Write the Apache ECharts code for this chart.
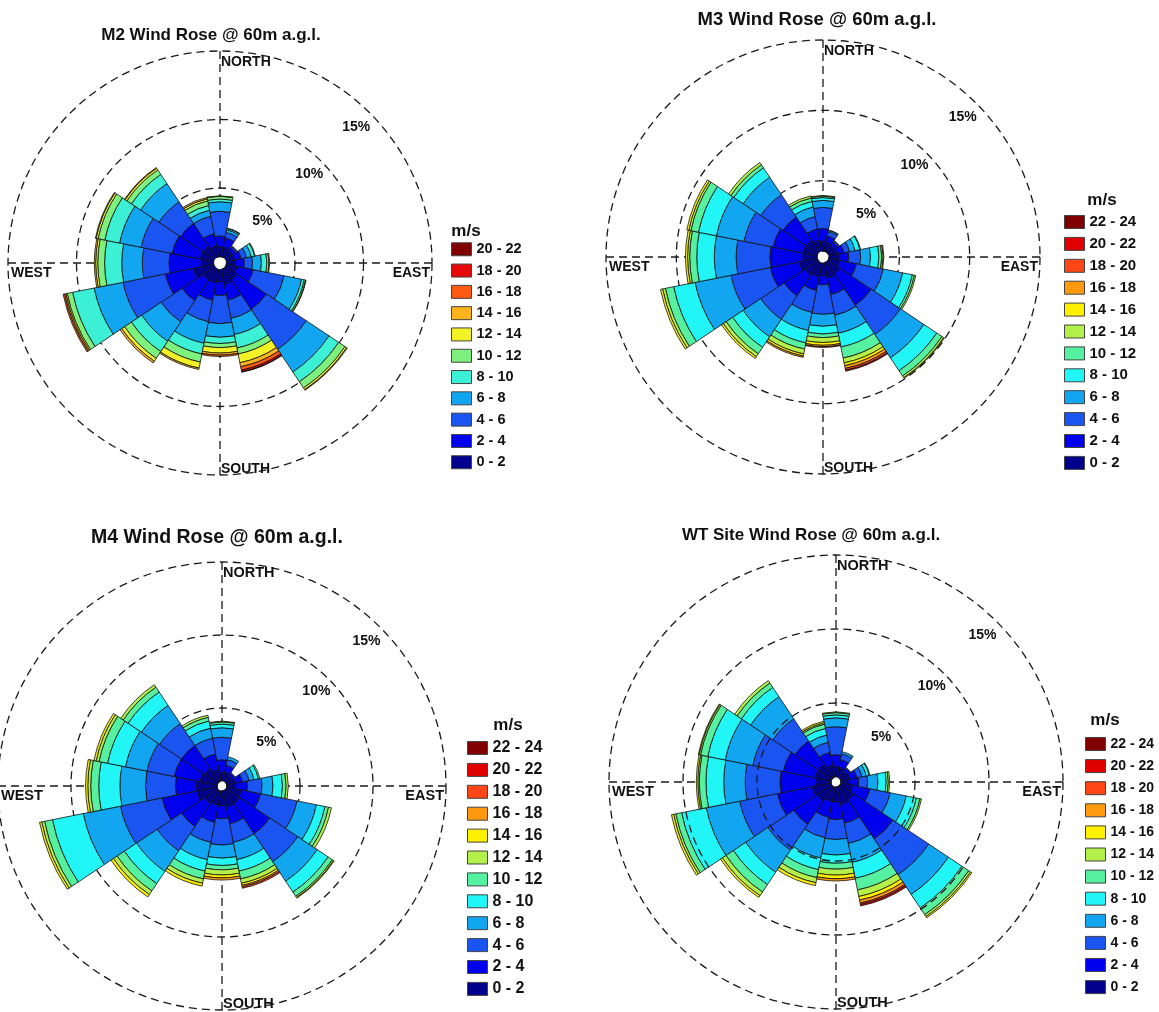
<!DOCTYPE html>
<html>
<head>
<meta charset="utf-8">
<script src="https://cdn.jsdelivr.net/npm/echarts@6/dist/echarts.min.js"></script>
<style>
html,body{margin:0;padding:0;background:#fff;}
#c{width:1159px;height:1012px;}
</style>
</head>
<body>
<div id="c"></div>
<script>
// ---------------- DATA ----------------
const directions = ['N','NNE','NE','ENE','E','ESE','SE','SSE','S','SSW','SW','WSW','W','WNW','NW','NNW'];
const speedBins11 = ['0 - 2','2 - 4','4 - 6','6 - 8','8 - 10','10 - 12','12 - 14','14 - 16','16 - 18','18 - 20','20 - 22'];
const speedBins12 = ['0 - 2','2 - 4','4 - 6','6 - 8','8 - 10','10 - 12','12 - 14','14 - 16','16 - 18','18 - 20','20 - 22','22 - 24'];
const ringTicks = [5, 10, 15];
const compassNames = ['NORTH', 'EAST', 'SOUTH', 'WEST'];

// frequency (% of time) per direction (rows, N..NNW) and speed bin (columns, lowest first)
const m2Freq = [
  [0.7,0.8,1.8,0.7,0.2,0.2,0.03],
  [0.7,0.7,0.4,0.2,0.1,0.03],
  [0.6,0.3,0.1,0.05],
  [0.6,0.5,0.4,0.35,0.25,0.05],
  [0.65,0.65,0.6,0.65,0.4,0.15,0.05],
  [0.8,1.2,2.3,1.3,0.2,0.1,0.03],
  [1.0,2.6,3.5,2.0,0.85,0.55,0.15,0.05],
  [1.1,1.2,1.35,1.2,1.0,0.45,0.65,0.3,0.25,0.12,0.04],
  [0.9,1.0,2.05,1.0,0.45,0.3,0.4,0.15,0.1],
  [1.0,1.3,1.6,1.6,0.8,0.6,0.45,0.1],
  [1.0,1.85,1.85,1.7,0.9,0.6,0.25,0.15],
  [1.5,2.1,3.15,2.15,1.6,0.4,0.1,0.1,0.1],
  [0.9,2.35,1.95,1.5,1.25,0.5,0.15,0.1],
  [1.0,2.1,2.3,1.6,1.1,0.5,0.15,0.05],
  [1.0,2.0,1.9,1.6,0.8,0.4,0.15,0.05],
  [0.8,0.9,1.3,0.45,0.35,0.35,0.15,0.1]
];
const m3Freq = [
  [0.7,0.9,1.5,0.5,0.2,0.1,0.05],
  [0.6,0.5,0.3,0.1,0.03],
  [0.55,0.3,0.1,0.03],
  [0.6,0.5,0.4,0.4,0.35,0.05],
  [0.7,0.7,0.85,0.7,0.6,0.2,0.1,0.05],
  [0.8,1.2,1.95,1.4,0.7,0.15,0.1],
  [1.0,2.7,2.5,2.0,1.1,0.45,0.15,0.05],
  [1.1,1.2,1.5,1.3,1.0,0.8,0.35,0.2,0.2,0.13,0.07],
  [0.9,0.65,2.1,0.85,0.55,0.25,0.35,0.2,0.1,0.05],
  [1.0,1.0,1.6,1.3,0.9,0.45,0.35,0.15,0.1],
  [1.1,1.8,2.0,1.5,0.9,0.55,0.25,0.15],
  [1.3,2.1,2.85,2.6,1.55,0.6,0.2,0.15],
  [1.0,2.35,2.4,1.55,1.25,0.5,0.15,0.15],
  [1.0,2.2,2.1,2.0,1.3,0.55,0.15,0.15],
  [1.0,2.0,1.9,1.5,0.8,0.25,0.2],
  [0.8,0.8,0.9,0.7,0.4,0.25,0.15]
];
const m4Freq = [
  [0.6,0.85,1.55,0.65,0.25,0.15,0.05],
  [0.6,0.5,0.4,0.2],
  [0.5,0.2,0.05],
  [0.6,0.5,0.45,0.35,0.3,0.1],
  [0.6,0.8,1.0,0.75,0.65,0.25,0.15],
  [1.0,1.35,2.55,1.35,0.6,0.25,0.2],
  [1.1,2.5,2.3,1.6,0.9,0.35,0.1,0.05],
  [1.1,1.2,1.3,1.2,0.8,0.55,0.3,0.15,0.1,0.1],
  [1.0,0.9,1.8,0.9,0.5,0.3,0.35,0.2,0.15],
  [1.0,1.2,1.4,1.2,0.8,0.55,0.3,0.2],
  [1.1,1.9,2.0,1.7,1.0,0.6,0.3,0.2],
  [1.4,2.45,2.9,2.6,2.15,0.55,0.2,0.15],
  [1.4,1.45,2.05,1.75,1.45,0.55,0.2,0.15],
  [1.2,1.8,1.9,1.5,1.25,0.6,0.2,0.15],
  [1.1,1.9,1.8,1.5,1.1,0.4,0.2],
  [0.8,1.1,1.1,0.7,0.5,0.25,0.15]
];
const wtFreq = [
  [0.7,0.8,1.9,0.6,0.2,0.15,0.05],
  [0.65,0.55,0.4,0.15],
  [0.55,0.25,0.05],
  [0.6,0.5,0.35,0.3,0.2,0.05],
  [0.6,0.6,0.6,0.7,0.55,0.15,0.1],
  [0.8,1.2,1.4,1.1,0.7,0.25,0.1],
  [1.1,3.2,2.9,1.6,1.1,0.55,0.15,0.1],
  [1.2,1.3,1.4,1.3,1.1,0.8,0.45,0.25,0.2,0.1,0.1],
  [1.0,1.2,1.35,1.05,0.55,0.4,0.4,0.25,0.15],
  [1.0,1.1,1.4,1.4,0.8,0.55,0.35,0.2],
  [1.2,1.9,2.1,1.8,1.0,0.6,0.3,0.15],
  [1.3,2.4,2.6,2.3,1.7,0.4,0.15,0.15],
  [1.05,2.4,2.35,1.45,1.2,0.45,0.1,0.1],
  [1.1,2.2,2.1,1.9,1.2,0.5,0.1,0.05],
  [1.1,1.9,1.8,1.8,0.75,0.35,0.2],
  [0.8,0.9,0.7,0.5,0.45,0.3,0.1,0.1]
];

// ---------------- STYLE / LAYOUT ----------------
const colors11 = ['#00008c','#0000ee','#1a55f2','#12a5f0','#3cf0d6','#7ef07e','#f2f226','#ffb41e','#ff5a14','#e60a0a','#800000'];
const colors12 = ['#00008c','#0000ee','#1a55f2','#12a5f0','#22f5f5','#55f0a0','#b4f04a','#fff000','#ff9a10','#ff4616','#e00000','#800000'];
const FONT = '"Liberation Sans", Arial, Helvetica, sans-serif';

const roses = [
  {key:'M2', title:'M2 Wind Rose @ 60m a.g.l.', freq:m2Freq, bins:speedBins11, colors:colors11,
   cx:220, cy:263, R:212, hole:6.5, titleX:211, titleY:35, titleSize:17, compassSize:14, gridOnTop:false,
   lg:{boxX:451, mpsX:466, mpsY:231, first:249, step:20.8, font:14.5}},
  {key:'M3', title:'M3 Wind Rose @ 60m a.g.l.', freq:m3Freq, bins:speedBins12, colors:colors12,
   cx:823, cy:257, R:217, hole:6, titleX:817, titleY:20, titleSize:18.5, compassSize:14, gridOnTop:false,
   lg:{boxX:1064, mpsX:1102, mpsY:200, first:222, step:21.9, font:15}},
  {key:'M4', title:'M4 Wind Rose @ 60m a.g.l.', freq:m4Freq, bins:speedBins12, colors:colors12,
   cx:222, cy:786, R:224, hole:5, titleX:217, titleY:538, titleSize:19.5, compassSize:14.5, gridOnTop:false,
   lg:{boxX:467, mpsX:508, mpsY:725, first:748, step:21.9, font:16}},
  {key:'WT', title:'WT Site Wind Rose @ 60m a.g.l.', freq:wtFreq, bins:speedBins12, colors:colors12,
   cx:836, cy:782, R:227, hole:5, titleX:811, titleY:535, titleSize:17, compassSize:14.5, gridOnTop:true,
   lg:{boxX:1085, mpsX:1105, mpsY:720, first:744, step:22.1, font:14}}
];

// ---------------- BUILD ----------------
const polar = [], angleAxis = [], radiusAxis = [], series = [], legend = [], graphic = [];
const dash = {color:'#1a1a1a', width:1.3, type:[8,5]};

function txt(text, x, y, size, align, vAlign) {
  return {type:'text', z:100, silent:true,
    style:{text:text, x:x, y:y, font:'bold ' + size + 'px ' + FONT, fill:'#111',
      align:align, verticalAlign:vAlign, textAlign:align, textVerticalAlign:vAlign}};
}

roses.forEach((r, i) => {
  const gi = 2 * i, bi = 2 * i + 1;
  polar.push({center:[r.cx, r.cy], radius:[r.hole, r.R]});
  polar.push({center:[r.cx, r.cy], radius:[r.hole, r.R]});

  // grid polar: dashed rings (5/10/15 %) and compass cross
  angleAxis.push({polarIndex:gi, type:'value', min:0, max:360, interval:90, startAngle:90,
    axisLine:{show:false}, axisTick:{show:false}, axisLabel:{show:false},
    splitLine:{show:true, lineStyle:dash}});
  radiusAxis.push({polarIndex:gi, type:'value', min:0, max:15, interval:5, z: r.gridOnTop ? 10 : 0,
    axisLine:{show:false}, axisTick:{show:false}, axisLabel:{show:false},
    splitLine:{show:true, lineStyle:dash}});

  // bar polar: 16 direction sectors centred on compass points
  angleAxis.push({polarIndex:bi, type:'category', data:directions, startAngle:90 + 180/directions.length,
    boundaryGap:true, axisLine:{show:false}, axisTick:{show:false}, axisLabel:{show:false}, splitLine:{show:false}});
  radiusAxis.push({polarIndex:bi, type:'value', min:0, max:15, show:false,
    axisLine:{show:false}, axisTick:{show:false}, axisLabel:{show:false}, splitLine:{show:false}});

  r.bins.forEach((bin, b) => {
    series.push({
      type:'bar', coordinateSystem:'polar', polarIndex:bi, stack:r.key,
      name:r.key + '|' + bin,
      data:r.freq.map(row => (row[b] ? row[b] : null)),
      barCategoryGap:'0%', z:2,
      itemStyle:{color:r.colors[b], borderColor:'#111', borderWidth:0.8},
      emphasis:{disabled:true}
    });
  });

  const rowH = r.lg.font;
  legend.push({
    data:r.bins.slice().reverse().map(b => r.key + '|' + b),
    orient:'vertical', left:r.lg.boxX, top:r.lg.first - rowH / 2, padding:0,
    itemWidth:20, itemHeight:13, itemGap:r.lg.step - rowH, icon:'rect', selectedMode:false,
    formatter:n => n.split('|')[1],
    itemStyle:{borderColor:'#444', borderWidth:1},
    textStyle:{fontFamily:FONT, fontWeight:'bold', fontSize:r.lg.font, lineHeight:rowH, color:'#111'}
  });

  // texts
  graphic.push(txt(r.title, r.titleX, r.titleY, r.titleSize, 'center', 'middle'));
  graphic.push(txt('m/s', r.lg.mpsX, r.lg.mpsY, 17, 'center', 'middle'));
  const cs = r.compassSize;
  graphic.push(txt(compassNames[0], r.cx + 1, r.cy - r.R + 11, cs, 'left', 'middle'));
  graphic.push(txt(compassNames[1], r.cx + r.R - 2, r.cy + 10, cs, 'right', 'middle'));
  graphic.push(txt(compassNames[2], r.cx + 1, r.cy + r.R - 6, cs, 'left', 'middle'));
  graphic.push(txt(compassNames[3], r.cx - r.R + 3, r.cy + 10, cs, 'left', 'middle'));
  ringTicks.forEach(p => {
    const ringR = r.hole + (r.R - r.hole) * p / 15;
    const lr = ringR - 13 - 0.03 * ringR;
    graphic.push(txt(p + '%', r.cx + lr * Math.SQRT1_2, r.cy - lr * Math.SQRT1_2, 14, 'center', 'middle'));
  });
});

const chart = echarts.init(document.getElementById('c'), null, {renderer:'canvas'});
chart.setOption({
  backgroundColor:'#ffffff',
  animation:false,
  polar:polar, angleAxis:angleAxis, radiusAxis:radiusAxis,
  legend:legend, series:series, graphic:graphic
});
</script>
</body>
</html>
